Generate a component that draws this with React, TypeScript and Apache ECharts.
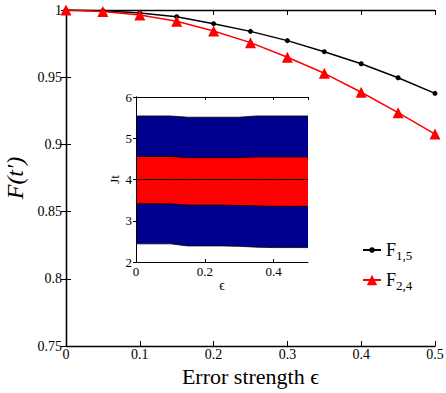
import React, { useEffect, useRef } from "react";
import * as echarts from "echarts";

const FONT = "'Liberation Serif', 'DejaVu Serif', serif";

// main chart data
const eps = [0, 0.05, 0.1, 0.15, 0.2, 0.25, 0.3, 0.35, 0.4, 0.45, 0.5];
const f15 = [1, 0.9995, 0.9978, 0.995, 0.9898, 0.9841, 0.9772, 0.969, 0.96, 0.9496, 0.938];
const f24 = [1, 0.9988, 0.9963, 0.9916, 0.9844, 0.9757, 0.9648, 0.9529, 0.9388, 0.9236, 0.9077];

// inset band boundaries (Jt)
const insetUpper = [5.54, 5.54, 5.54, 5.51, 5.51, 5.51, 5.51, 5.54, 5.54, 5.54, 5.54];
const insetRedTop = [4.56, 4.56, 4.56, 4.53, 4.53, 4.53, 4.53, 4.545, 4.545, 4.545, 4.545];
const insetRedBottom = [3.41, 3.41, 3.41, 3.38, 3.38, 3.38, 3.37, 3.36, 3.35, 3.35, 3.35];
const insetLower = [2.44, 2.44, 2.44, 2.39, 2.39, 2.39, 2.38, 2.36, 2.35, 2.35, 2.35];
const insetCenter = [4, 4, 4, 4, 4, 4, 4, 4, 4, 4, 4];

const pairs = (ys: number[]) => eps.map((x, i) => [x, ys[i]]);
const fmt = (v: number) => String(+v.toFixed(2));

const legendText = {
  fontFamily: FONT,
  color: "#000",
  rich: {
    m: { fontSize: 18, fontFamily: FONT, color: "#000" },
    s: { fontSize: 13, fontFamily: FONT, color: "#000", padding: [10, 0, 0, 0] },
  },
};

export default function App() {
  const ref = useRef<HTMLDivElement>(null);
  useEffect(() => {
    const chart = echarts.init(ref.current!, null, { renderer: "svg" });
    const axLine = { show: true, lineStyle: { color: "#000", width: 1.3 } };
    const inLine = { show: true, lineStyle: { color: "#000", width: 1 } };
    const band = (name: string, data: number[], color: string, z: number) => ({
      name,
      type: "line",
      xAxisIndex: 2,
      yAxisIndex: 2,
      data: pairs(data),
      symbol: "none",
      lineStyle: { color: "#000", width: 0.8 },
      areaStyle: { color, opacity: 1, origin: "start" },
      z,
      silent: true,
    });
    chart.setOption({
      animation: false,
      backgroundColor: "#fff",
      textStyle: { fontFamily: FONT },
      grid: [
        { left: 66, right: 11, top: 10, bottom: 47, outerBoundsMode: "none", containLabel: false },
        { left: 136, top: 97, width: 172, height: 165, outerBoundsMode: "none", containLabel: false },
      ],
      legend: [
        {
          data: ["F15"],
          left: 362,
          top: 241,
          padding: 0,
          itemWidth: 18,
          itemHeight: 7,
          formatter: () => "{m|F}{s|1,5}",
          textStyle: legendText,
        },
        {
          data: ["F24"],
          left: 362,
          top: 271,
          padding: 0,
          itemWidth: 18,
          itemHeight: 13,
          formatter: () => "{m|F}{s|2,4}",
          textStyle: legendText,
        },
      ],
      xAxis: [
        {
          gridIndex: 0,
          type: "value",
          min: 0,
          max: 0.5,
          interval: 0.1,
          position: "bottom",
          axisLine: axLine,
          axisTick: { inside: true, length: 5, lineStyle: { color: "#000" } },
          splitLine: { show: false },
          axisLabel: { color: "#000", fontSize: 14, fontFamily: FONT, margin: 1, formatter: fmt },
          name: "Error strength ϵ",
          nameLocation: "middle",
          nameGap: 19,
          nameTextStyle: { fontSize: 22, fontFamily: FONT, color: "#000" },
        },
        {
          gridIndex: 0,
          type: "value",
          min: 0,
          max: 0.5,
          interval: 0.1,
          position: "top",
          axisLine: axLine,
          axisTick: { inside: true, length: 5, lineStyle: { color: "#000" } },
          splitLine: { show: false },
          axisLabel: { show: false },
        },
        {
          gridIndex: 1,
          type: "value",
          min: 0,
          max: 0.5,
          interval: 0.2,
          position: "bottom",
          axisLine: inLine,
          axisTick: { inside: true, length: 3, lineStyle: { color: "#000" } },
          splitLine: { show: false },
          axisLabel: { color: "#000", fontSize: 13, fontFamily: FONT, margin: 3, formatter: fmt, showMaxLabel: false },
          name: "ϵ",
          nameLocation: "middle",
          nameGap: 16,
          nameTextStyle: { fontSize: 14, fontFamily: FONT, color: "#000" },
          z: 10,
        },
        {
          gridIndex: 1,
          type: "value",
          min: 0,
          max: 0.5,
          interval: 0.2,
          position: "top",
          axisLine: inLine,
          axisTick: { inside: true, length: 3, lineStyle: { color: "#000" } },
          splitLine: { show: false },
          axisLabel: { show: false },
          z: 10,
        },
      ],
      yAxis: [
        {
          gridIndex: 0,
          type: "value",
          min: 0.75,
          max: 1,
          interval: 0.05,
          position: "left",
          axisLine: axLine,
          axisTick: { inside: true, length: 5, lineStyle: { color: "#000" } },
          splitLine: { show: false },
          axisLabel: { color: "#000", fontSize: 14, fontFamily: FONT, margin: 4, formatter: fmt },
          name: "F(t′)",
          nameLocation: "middle",
          nameGap: 29,
          nameTextStyle: { fontSize: 24, fontStyle: "italic", fontFamily: FONT, color: "#000" },
        },
        {
          gridIndex: 0,
          type: "value",
          min: 0.75,
          max: 1,
          interval: 0.05,
          position: "right",
          axisLine: axLine,
          axisTick: { inside: true, length: 5, lineStyle: { color: "#000" } },
          splitLine: { show: false },
          axisLabel: { show: false },
        },
        {
          gridIndex: 1,
          type: "value",
          min: 2,
          max: 6,
          interval: 1,
          position: "left",
          axisLine: inLine,
          axisTick: { inside: true, length: 3, lineStyle: { color: "#000" } },
          splitLine: { show: false },
          axisLabel: { color: "#000", fontSize: 13, fontFamily: FONT, margin: 4 },
          name: "Jt",
          nameLocation: "middle",
          nameGap: 15,
          nameTextStyle: { fontSize: 13, fontFamily: FONT, color: "#000" },
          z: 10,
        },
        {
          gridIndex: 1,
          type: "value",
          min: 2,
          max: 6,
          interval: 1,
          position: "right",
          axisLine: inLine,
          axisTick: { inside: true, length: 3, lineStyle: { color: "#000" } },
          splitLine: { show: false },
          axisLabel: { show: false },
          z: 10,
        },
      ],
      series: [
        {
          name: "F15",
          type: "line",
          xAxisIndex: 0,
          yAxisIndex: 0,
          data: pairs(f15),
          symbol: "circle",
          symbolSize: 5,
          itemStyle: { color: "#000" },
          lineStyle: { color: "#000", width: 1.5 },
        },
        {
          name: "F24",
          type: "line",
          xAxisIndex: 0,
          yAxisIndex: 0,
          data: pairs(f24),
          symbol: "triangle",
          symbolSize: 11,
          itemStyle: { color: "#ff0000" },
          lineStyle: { color: "#ff0000", width: 1.5 },
        },
        band("upper", insetUpper, "#00008f", 2),
        band("redTop", insetRedTop, "#ff0000", 3),
        band("redBottom", insetRedBottom, "#00008f", 4),
        band("lower", insetLower, "#ffffff", 5),
        {
          name: "center",
          type: "line",
          xAxisIndex: 2,
          yAxisIndex: 2,
          data: pairs(insetCenter),
          symbol: "none",
          lineStyle: { color: "#000", width: 1 },
          z: 6,
          silent: true,
        },
      ],
    });
    return () => chart.dispose();
  }, []);
  return <div ref={ref} style={{ width: 446, height: 393, position: "absolute", left: 0, top: 0 }} />;
}
